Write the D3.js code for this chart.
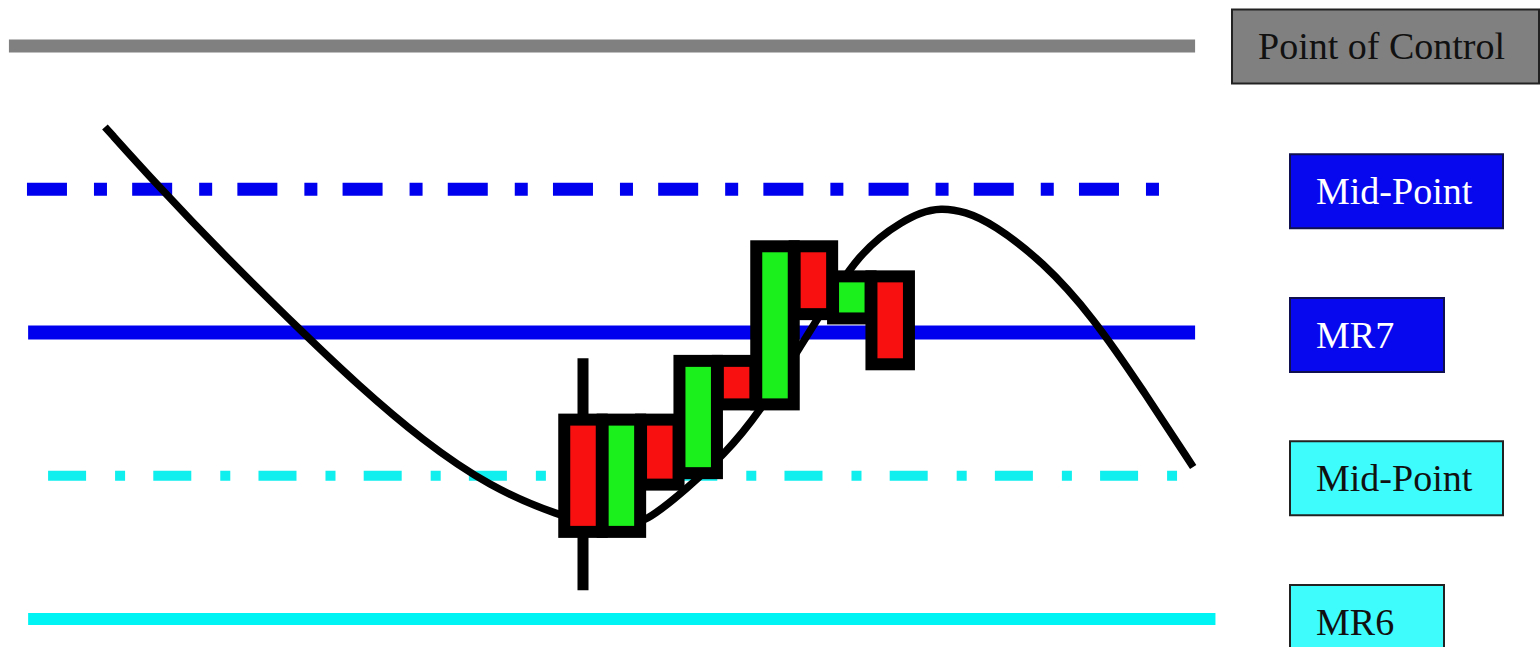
<!DOCTYPE html>
<html>
<head>
<meta charset="utf-8">
<script src="https://cdn.jsdelivr.net/npm/d3@7"></script>
<style>
  body { margin: 0; background: #fff; }
  svg { display: block; }
</style>
</head>
<body>
<div id="chart"></div>
<script>
// price levels (top to bottom)
var levelNames  = ["Point of Control", "Mid-Point", "MR7", "Mid-Point", "MR6"];
var levelPrices = [100, 90, 80, 70, 60];
var levelStart  = [-14.95, -14.48, -14.45, -13.93, -14.45];   // in bar units
var levelEnd    = [15.94, 15.0, 15.94, 15.47, 16.47];

// candles
var barIndex = [0, 1, 2, 3, 4, 5, 6, 7, 8];
var barOpen  = [73.5, 66.5, 73.5, 70.6, 77.6, 75.4, 85.6, 81.4, 83.5];
var barClose = [66.5, 73.5, 69.8, 77.6, 75.4, 85.6, 81.7, 83.5, 78.2];
var barHigh  = [78.2, 73.5, 73.5, 77.6, 77.6, 85.6, 85.6, 83.5, 83.5];
var barLow   = [62.0, 66.5, 69.8, 70.6, 75.4, 75.4, 81.7, 81.4, 78.2];

// price path (bar units, price)
var pathX = [-12.45, -11.09, -9.38, -7.29, -5.89, -4.17, -2.42, -0.68, 0.76, 1.67, 2.71, 3.65, 4.61, 5.65, 6.69, 7.21, 7.73, 8.26, 8.78, 9.30, 9.95, 10.68, 11.98, 13.28, 14.58, 15.89];
var pathY = [94.35, 90.30, 85.48, 79.97, 76.40, 72.43, 69.21, 67.26, 66.20, 66.77, 69.14, 71.38, 74.45, 78.99, 83.46, 85.34, 86.67, 87.64, 88.37, 88.70, 88.45, 87.57, 84.95, 81.08, 75.99, 70.61];

var width = 1540, height = 647;

var svg = d3.select("#chart")
    .append("svg")
    .attr("width", width)
    .attr("height", height);

var x = d3.scaleLinear().domain([0, 8]).range([583, 890.2]);
var y = d3.scaleLinear().domain([60, 100]).range([619, 46]);

var lineColor = ["#808080", "#0000ee", "#0000ee", "#10eeee", "#00f4f4"];
var lineWidth = [13, 13, 14, 10, 12];
var lineDash  = [null, "40,27,13,25.2", null, "38,29,10,28.2", null];

var boxFill   = ["#808080", "#0808ee", "#0808ee", "#3ffcfc", "#3ffcfc"];
var boxStroke = ["#222", "#101050", "#101050", "#222", "#222"];
var textFill  = ["#111", "#fff", "#fff", "#111", "#111"];
var boxLeft   = [1232, 1290, 1290, 1290, 1290];
var boxWidth  = [307, 213, 154, 213, 154];
var boxShift  = [0.5, 2, 2.5, 2.5, 3];

var levels = levelPrices.map(function(p, i) { return {i: i, p: p}; });

svg.selectAll("line.level")
    .data(levels)
    .enter()
    .append("line")
    .attr("class", "level")
    .attr("x1", function(d) { return x(levelStart[d.i]); })
    .attr("x2", function(d) { return x(levelEnd[d.i]); })
    .attr("y1", function(d) { return y(d.p); })
    .attr("y2", function(d) { return y(d.p); })
    .attr("stroke", function(d) { return lineColor[d.i]; })
    .attr("stroke-width", function(d) { return lineWidth[d.i]; })
    .attr("stroke-dasharray", function(d) { return lineDash[d.i]; });

// curve
var pts = pathX.map(function(v, i) { return [v, pathY[i]]; });
var line = d3.line()
    .x(function(d) { return x(d[0]); })
    .y(function(d) { return y(d[1]); })
    .curve(d3.curveBasis);

svg.append("path")
    .datum(pts)
    .attr("d", line)
    .attr("fill", "none")
    .attr("stroke", "#000")
    .attr("stroke-width", 7.5);

// candles
var half = 12.75, pad = 12;
var bars = barIndex.map(function(i) {
    return {i: i, o: barOpen[i], c: barClose[i], h: barHigh[i], l: barLow[i]};
});

svg.selectAll("line.wick")
    .data(bars)
    .enter()
    .append("line")
    .attr("class", "wick")
    .attr("x1", function(d) { return x(d.i); })
    .attr("x2", function(d) { return x(d.i); })
    .attr("y1", function(d) { return y(d.h); })
    .attr("y2", function(d) { return y(d.l); })
    .attr("stroke", "#000")
    .attr("stroke-width", 11);

svg.selectAll("rect.edge")
    .data(bars)
    .enter()
    .append("rect")
    .attr("class", "edge")
    .attr("x", function(d) { return x(d.i) - half - pad; })
    .attr("width", 2 * (half + pad))
    .attr("y", function(d) { return y(Math.max(d.o, d.c)) - pad; })
    .attr("height", function(d) { return y(Math.min(d.o, d.c)) - y(Math.max(d.o, d.c)) + 2 * pad; })
    .attr("fill", "#000");

svg.selectAll("rect.body")
    .data(bars)
    .enter()
    .append("rect")
    .attr("class", "body")
    .attr("x", function(d) { return x(d.i) - half; })
    .attr("width", 2 * half)
    .attr("y", function(d) { return y(Math.max(d.o, d.c)); })
    .attr("height", function(d) { return y(Math.min(d.o, d.c)) - y(Math.max(d.o, d.c)); })
    .attr("fill", function(d) { return d.c >= d.o ? "#1cf01c" : "#f81010"; });

// label boxes
var boxH = 74;
var labels = svg.selectAll("g.label")
    .data(levels)
    .enter()
    .append("g")
    .attr("class", "label");

labels.append("rect")
    .attr("x", function(d) { return boxLeft[d.i]; })
    .attr("y", function(d) { return y(d.p) + boxShift[d.i] - boxH / 2; })
    .attr("width", function(d) { return boxWidth[d.i]; })
    .attr("height", boxH)
    .attr("fill", function(d) { return boxFill[d.i]; })
    .attr("stroke", function(d) { return boxStroke[d.i]; })
    .attr("stroke-width", 2);

labels.append("text")
    .attr("x", function(d) { return boxLeft[d.i] + 26; })
    .attr("y", function(d) { return y(d.p) + boxShift[d.i] + 12.5; })
    .attr("font-family", "'Liberation Serif', 'Times New Roman', serif")
    .attr("font-size", 38)
    .attr("fill", function(d) { return textFill[d.i]; })
    .text(function(d) { return levelNames[d.i]; });
</script>
</body>
</html>
